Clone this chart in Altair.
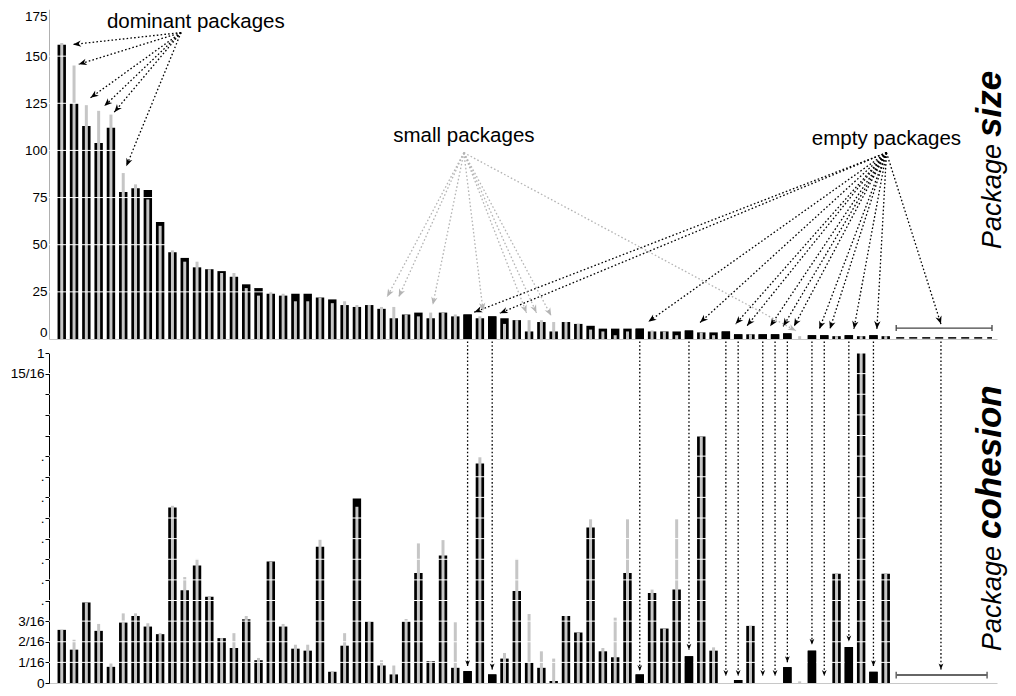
import math
import altair as alt
import pandas as pd

# ---------------- data ----------------
size_black = [156, 125, 113, 104, 112, 78, 80, 79, 62, 46, 43, 38, 37, 36, 33, 29, 27, 24, 23, 24,
              24, 22, 21, 18, 17, 18, 16, 11, 13, 14, 11, 14, 12, 13, 11, 12, 11, 10, 4, 9,
              4, 9, 8, 7, 5.5, 5.5, 5.5, 5.5, 4, 4, 4, 4.5, 3.5, 3.5, 4, 2.5, 2.5, 2.5, 2.5, 3,
              0, 2, 2, 1.5, 2, 1.5, 2, 1.5]
size_gray = [157, 145, 124, 121, 119, 88, 82, 74, 60, 47, 41, 41, 37, 35, 35, 27, 23, 25, 24, 20,
             20, 22, 19, 20, 18, 18, 17, 17, 13, 12, 14, 14, 13, 0, 12, 0, 8, 10, 10, 10,
             9, 9, 8, 5, 4, 2, 4, 0, 4.5, 4, 2, 0, 3.5, 2, 0, 0, 2.5, 0, 0, 0,
             1.5, 0, 0, 1.5, 0, 1.5, 0, 1.5]
coh_black = [0.161, 0.101, 0.244, 0.158, 0.049, 0.183, 0.203, 0.171, 0.148, 0.532,
             0.281, 0.356, 0.261, 0.136, 0.106, 0.193, 0.069, 0.368, 0.171, 0.104,
             0.098, 0.413, 0.034, 0.113, 0.559, 0.186, 0.053, 0.026, 0.186, 0.333,
             0.066, 0.386, 0.046, 0.036, 0.665, 0.026, 0.074, 0.279, 0.061, 0.046,
             0.006, 0.203, 0.153, 0.471, 0.096, 0.078, 0.333, 0.026, 0.273, 0.165,
             0.283, 0.081, 0.747, 0.098, 0.0, 0.009, 0.173, 0.0, 0.0, 0.048,
             0.0, 0.098, 0.0, 0.331, 0.109, 1.0, 0.034, 0.331]
coh_gray = [0.161, 0.131, 0.244, 0.179, 0.059, 0.211, 0.211, 0.181, 0.151, 0.537,
            0.321, 0.376, 0.261, 0.136, 0.151, 0.203, 0.076, 0.368, 0.179, 0.116,
            0.116, 0.434, 0.034, 0.151, 0.534, 0.186, 0.069, 0.053, 0.194, 0.423,
            0.066, 0.433, 0.184, 0.0, 0.684, 0.0, 0.091, 0.376, 0.209, 0.096,
            0.074, 0.203, 0.153, 0.496, 0.106, 0.198, 0.496, 0.0, 0.283, 0.165,
            0.496, 0.0, 0.747, 0.108, 0.0, 0.0, 0.173, 0.0, 0.0, 0.0,
            0.005, 0.0, 0.0, 0.331, 0.0, 1.0, 0.0, 0.331]
package_index = list(range(len(size_black)))

size_ticks = [0, 25, 50, 75, 100, 125, 150, 175]
coh_tick_labels = ["0", "1/16", "2/16", "3/16", ".", ".", ".", ".", ".", ".", ".", ".",
                   "", "", "", "15/16", "1"]
coh_ticks = [k / 16 for k in range(17)]

# annotations (x in package index units, y in data units)
dominant_label = ("dominant packages", 10.9, 168.3)
dominant_src = (9.7, 162.5)
dominant_tx = [0.92, 1.38, 2.34, 3.46, 4.27, 5.25]
dominant_ty = [156.2, 145.7, 127.9, 123.5, 120.3, 91.6]

small_label = ("small packages", 32.7, 107.5)
small_src = (32.7, 98.8)
small_tx = [26.45, 27.4, 30.17, 34.26, 37.79, 38.6, 39.8, 59.7]
small_ty = [22.3, 22.3, 18.1, 14.9, 13.9, 13.9, 12.3, 4.4]

empty_label = ("empty packages", 67.06, 106.0)
empty_src = (67.06, 98.8)
empty_tx = [33.54, 35.62, 47.7, 51.9, 54.79, 55.72, 57.6, 58.66, 59.54, 61.6, 62.46, 64.41, 66.28, 71.49]
empty_ty = [14.2, 13.7, 9.2, 8.7, 7.9, 7.0, 6.7, 6.7, 6.7, 5.3, 5.3, 5.3, 5.3, 7.9]

drop_x = [33, 35, 47, 51, 54, 55, 57, 58, 59, 61, 62, 64, 66, 71.49]
drop_tip = [0.051, 0.041, 0.036, 0.101, 0.021, 0.021, 0.021, 0.021, 0.063, 0.116, 0.021, 0.126, 0.051, 0.041]
drop_top = 1.035

rest_x = [67.85, 75.64]
rest_size = 5.8
rest_dash = 0.6
rest_coh_x = [67.85, 75.24]
rest_coh = 0.024

# ---------------- layout ----------------
W = 948
H1 = 330
H2 = 330
XDOM = [-0.63, 75.64]
px_i = W / (XDOM[1] - XDOM[0])
px_s = H1 / 175.0
px_c = H2 / 1.0
FONT = "Liberation Sans"
GRAY = "#c6c6c6"
ARROW = "M0,0L-2,-0.8L-1.4,0L-2,0.8Z"

x_scale = alt.Scale(domain=XDOM, nice=False, zero=False)
ys_scale = alt.Scale(domain=[0, 175], nice=False)
yc_scale = alt.Scale(domain=[0, 1], nice=False)

AX_X = alt.Axis(labels=False, ticks=False, title=None, grid=False,
                domainColor="#c8c8c8", domainWidth=1.2)
AX_TOP = alt.Axis(values=size_ticks, grid=False, ticks=False, domainColor="#b0b0b0",
                  labelFont=FONT, labelFontSize=13.5, labelColor="black",
                  labelPadding=2, labelFlush=True, labelOverlap=False, title=None,
                  minExtent=41, maxExtent=41)
label_expr = "[" + ",".join("'%s'" % s for s in coh_tick_labels) + "][round(datum.value*16)]"
AX_BOT = alt.Axis(values=coh_ticks, labelExpr=label_expr, grid=False, ticks=True,
                  tickSize=4, tickColor="black", domainColor="black", domainWidth=1,
                  labelFont=FONT, labelFontSize=13.5, labelColor="black",
                  labelPadding=1, labelOverlap=False, labelBound=False, title=None,
                  minExtent=41, maxExtent=41)


def ang(sx, sy, tx, ty, pv):
    dx = (tx - sx) * px_i
    dy = -(ty - sy) * pv
    return math.degrees(math.atan2(dy, dx)) % 360


def XN(f):
    return alt.X(f, scale=x_scale, axis=AX_X, title=None)


def YS(f):
    return alt.Y(f, scale=ys_scale, axis=AX_TOP, title=None)


def YC(f):
    return alt.Y(f, scale=yc_scale, axis=AX_BOT, title=None)


# ---------------- top panel ----------------
top_df = pd.DataFrame({"i": package_index, "black": size_black, "gray": size_gray})

top_black = alt.Chart(top_df).mark_bar(width=8.4, color="black").encode(x=XN("i:Q"), y=YS("black:Q"))
top_gray = alt.Chart(top_df).mark_bar(width=3, color=GRAY).encode(x=XN("i:Q"), y=YS("gray:Q"))
top_grid = alt.Chart(pd.DataFrame({"v": size_ticks[1:]})).mark_rule(
    color="white", strokeWidth=1).encode(y=YS("v:Q"))
top_empty = alt.Chart(top_df).transform_filter("datum.gray == 0 && datum.black > 0").mark_bar(
    width=8.4, color="black").encode(x=XN("i:Q"), y=YS("black:Q"))

rows = []
for tx, ty in zip(dominant_tx, dominant_ty):
    rows.append(dict(sx=dominant_src[0], sy=dominant_src[1], tx=tx, ty=ty, c="black",
                     a=ang(dominant_src[0], dominant_src[1], tx, ty, px_s)))
for tx, ty in zip(empty_tx, empty_ty):
    rows.append(dict(sx=empty_src[0], sy=empty_src[1], tx=tx, ty=ty, c="black",
                     a=ang(empty_src[0], empty_src[1], tx, ty, px_s)))
for tx, ty in zip(small_tx, small_ty):
    rows.append(dict(sx=small_src[0], sy=small_src[1], tx=tx, ty=ty, c="#b4b4b4",
                     a=ang(small_src[0], small_src[1], tx, ty, px_s)))
arr_df = pd.DataFrame(rows)

top_lines = alt.Chart(arr_df).mark_rule(strokeDash=[1.6, 2.2], strokeWidth=1.3).encode(
    x=XN("sx:Q"), y=YS("sy:Q"), x2="tx:Q", y2="ty:Q", color=alt.Color("c:N", scale=None))
top_heads = alt.Chart(arr_df).mark_point(shape=ARROW, filled=True, size=64, opacity=1).encode(
    x=XN("tx:Q"), y=YS("ty:Q"),
    angle=alt.Angle("a:Q", scale=None), color=alt.Color("c:N", scale=None))

lab_df = pd.DataFrame({"t": [dominant_label[0], small_label[0], empty_label[0]],
                       "x": [dominant_label[1], small_label[1], empty_label[1]],
                       "y": [dominant_label[2], small_label[2], empty_label[2]]})
top_labels = alt.Chart(lab_df).mark_text(font=FONT, fontSize=20.5, color="black",
                                         align="center", baseline="middle").encode(
    x=XN("x:Q"), y=YS("y:Q"), text="t:N")

rest_df = pd.DataFrame({"x": [rest_x[0]], "x2": [rest_x[1]], "y": [rest_size], "yd": [rest_dash]})
rest_line = alt.Chart(rest_df).mark_rule(color="#444444", strokeWidth=1.3).encode(
    x=XN("x:Q"), x2="x2:Q", y=YS("y:Q"))
caps_df = pd.DataFrame({"x": rest_x, "y": [rest_size - 1.6] * 2, "y2": [rest_size + 1.6] * 2})
rest_caps = alt.Chart(caps_df).mark_rule(color="#444444", strokeWidth=1.3).encode(
    x=XN("x:Q"), y=YS("y:Q"), y2="y2:Q")
rest_dashed = alt.Chart(rest_df).mark_rule(color="#222222", strokeWidth=1.6, strokeDash=[8, 5]).encode(
    x=XN("x:Q"), x2="x2:Q", y=YS("yd:Q"))

TFS = 27
BFS = 35
tt1 = alt.Chart(pd.DataFrame({"t": ["Package"]})).mark_text(
    font=FONT, fontSize=TFS, fontStyle="italic", angle=270, align="left", baseline="alphabetic").encode(
    x=alt.value(W + 4), y=alt.value(240), text="t:N")
tt2 = alt.Chart(pd.DataFrame({"t": ["size"]})).mark_text(
    font=FONT, fontSize=BFS, fontStyle="italic", fontWeight="bold", angle=270, align="left",
    baseline="alphabetic").encode(x=alt.value(W + 4), y=alt.value(128), text="t:N")

top = alt.layer(top_black, top_gray, top_grid, top_empty, rest_dashed, rest_line, rest_caps,
                top_lines, top_heads, top_labels, tt1, tt2).properties(width=W, height=H1)

# ---------------- bottom panel ----------------
bot_df = pd.DataFrame({"i": package_index, "black": coh_black, "gray": coh_gray})

bot_black = alt.Chart(bot_df).mark_bar(width=8.4, color="black").encode(x=XN("i:Q"), y=YC("black:Q"))
bot_gray = alt.Chart(bot_df).mark_bar(width=3, color=GRAY).encode(x=XN("i:Q"), y=YC("gray:Q"))
bot_grid = alt.Chart(pd.DataFrame({"v": coh_ticks[1:]})).mark_rule(
    color="white", strokeWidth=1).encode(y=YC("v:Q"))
bot_empty = alt.Chart(bot_df).transform_filter("datum.gray == 0 && datum.black > 0").mark_bar(
    width=8.4, color="black").encode(x=XN("i:Q"), y=YC("black:Q"))

drop_df = pd.DataFrame({"x": drop_x, "tip": drop_tip, "top": [drop_top] * len(drop_x)})
drop_lines = alt.Chart(drop_df).mark_rule(color="black", strokeDash=[1.6, 2.2], strokeWidth=1.3).encode(
    x=XN("x:Q"), y=YC("top:Q"), y2="tip:Q")
drop_heads = alt.Chart(drop_df).mark_point(shape=ARROW, filled=True, size=36, color="black",
                                           angle=90, opacity=1).encode(x=XN("x:Q"), y=YC("tip:Q"))

rc_df = pd.DataFrame({"x": [rest_coh_x[0]], "x2": [rest_coh_x[1]], "y": [rest_coh]})
rc_line = alt.Chart(rc_df).mark_rule(color="#666666", strokeWidth=2).encode(
    x=XN("x:Q"), x2="x2:Q", y=YC("y:Q"))
rc_caps_df = pd.DataFrame({"x": rest_coh_x, "y": [rest_coh - 0.01] * 2, "y2": [rest_coh + 0.01] * 2})
rc_caps = alt.Chart(rc_caps_df).mark_rule(color="#666666", strokeWidth=1.5).encode(
    x=XN("x:Q"), y=YC("y:Q"), y2="y2:Q")

bt1 = alt.Chart(pd.DataFrame({"t": ["Package"]})).mark_text(
    font=FONT, fontSize=TFS, fontStyle="italic", angle=270, align="left", baseline="alphabetic").encode(
    x=alt.value(W + 4), y=alt.value(298), text="t:N")
bt2 = alt.Chart(pd.DataFrame({"t": ["cohesion"]})).mark_text(
    font=FONT, fontSize=BFS, fontStyle="italic", fontWeight="bold", angle=270, align="left",
    baseline="alphabetic").encode(x=alt.value(W + 4), y=alt.value(186), text="t:N")

bottom = alt.layer(bot_black, bot_gray, bot_grid, bot_empty, rc_line, rc_caps,
                   drop_lines, drop_heads, bt1, bt2).properties(width=W, height=H2)

chart = alt.vconcat(top, bottom, spacing=14, bounds="flush").properties(
    padding=0, background="white"
).configure_view(stroke=None).configure_axis(labelOverlap=False)

chart.save("out.html", embed_options={"renderer": "svg", "actions": False})
